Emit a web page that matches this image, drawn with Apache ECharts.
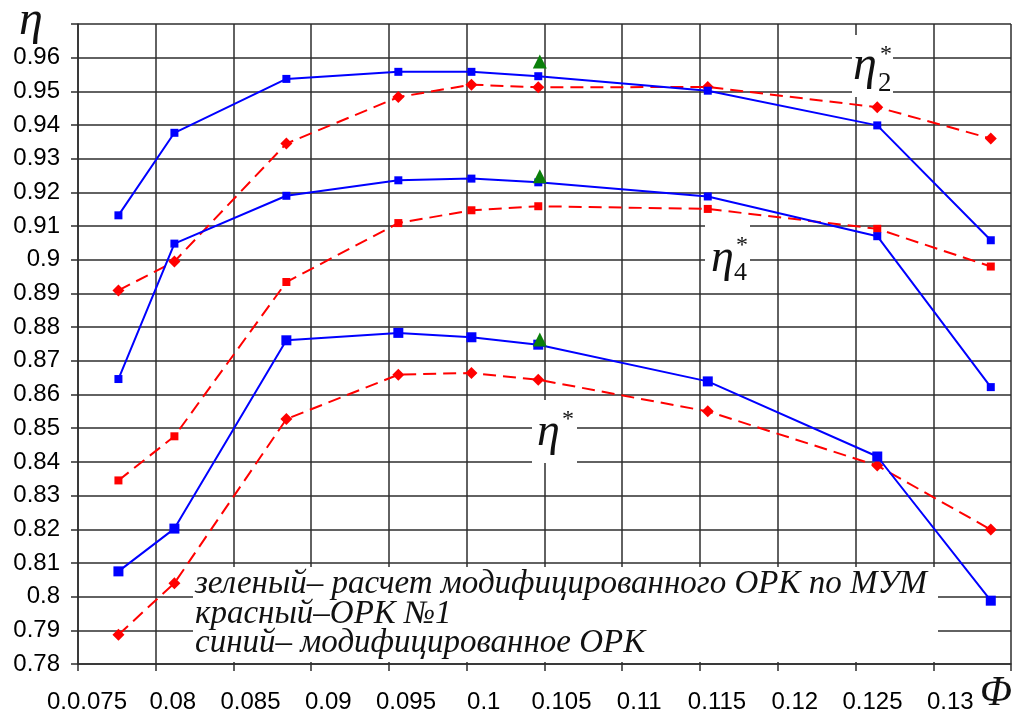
<!DOCTYPE html>
<html>
<head>
<meta charset="utf-8">
<title>КПД</title>
<script src="https://cdn.jsdelivr.net/npm/echarts@6/dist/echarts.min.js"></script>
<style>
	html, body { margin: 0; padding: 0; background: #fff; }
	#chart { width: 1019px; height: 715px; }
</style>
</head>
<body>
<div id="chart"></div>
<script>
	// расход Ф
	const phi = [0.0776, 0.0812, 0.0884, 0.0956, 0.1003, 0.1046, 0.1155, 0.1264, 0.1337];
	// eta2*
	const eta2Blue = [0.9132, 0.9377, 0.9537, 0.9558, 0.9558, 0.9545, 0.9502, 0.9399, 0.9058];
	const eta2Red = [0.8909, 0.8995, 0.9345, 0.9483, 0.952, 0.9512, 0.9513, 0.9453, 0.936];
	// eta4*
	const eta4Blue = [0.8646, 0.9048, 0.919, 0.9236, 0.9241, 0.923, 0.9188, 0.907, 0.8622];
	const eta4Red = [0.8345, 0.8476, 0.8934, 0.9109, 0.9147, 0.9159, 0.9151, 0.9092, 0.898];
	// eta*
	const etaBlue = [0.8075, 0.8202, 0.8761, 0.8783, 0.877, 0.8748, 0.8639, 0.8416, 0.7988];
	const etaRed = [0.7887, 0.804, 0.8527, 0.8659, 0.8664, 0.8644, 0.855, 0.8389, 0.8199];
	// зеленый - расчет по МУМ
	const greenPhi = [0.1047, 0.1047, 0.1047];
	const greenEta = [0.9589, 0.9248, 0.8763];

	const legendLines = [
		'зеленый– расчет модифицированного ОРК по МУМ',
		'красный–ОРК №1',
		'синий– модифицированное ОРК'
	];

	const pairs = (xs, ys) => xs.map((x, i) => [x, ys[i]]);
	const gridColor = '#2e2e2e';
	const serif = "'Liberation Serif', 'DejaVu Serif', serif";

	function blueLine(data, size) {
		return {
			type: 'line', data: data, symbol: 'rect', symbolSize: size, z: 4,
			lineStyle: { color: '#0000ff', width: 2 },
			itemStyle: { color: '#0000ff' }
		};
	}
	function redLine(data, symbol, size) {
		return {
			type: 'line', data: data, symbol: symbol, symbolSize: size, z: 3,
			lineStyle: { color: '#ff0000', width: 2, type: [13, 7] },
			itemStyle: { color: '#ff0000' }
		};
	}
	function whiteBox(x, y, w, h) {
		return { type: 'rect', z: 1, shape: { x: x, y: y, width: w, height: h }, style: { fill: '#fff' } };
	}
	function label(text, x, y, size, opts) {
		return {
			type: 'text', z: 10, x: x, y: y,
			style: Object.assign({
				text: text, fill: '#111', font: 'italic ' + size + 'px ' + serif,
				align: 'left', verticalAlign: 'middle'
			}, opts || {})
		};
	}

	let chart = echarts.init(document.getElementById('chart'));
	let option = {
		animation: false,
		grid: { left: 78, right: 8, top: 24, bottom: 51 },
		xAxis: {
			type: 'value', min: 0.075, max: 0.135, interval: 0.005,
			axisLine: { show: true, lineStyle: { color: gridColor, width: 1.5 } },
			axisTick: { show: true, length: 7, lineStyle: { color: gridColor, width: 1.5 } },
			splitLine: { show: true, lineStyle: { color: gridColor, width: 1.5 } },
			axisLabel: {
				margin: 26,
				formatter: function (v) {
					if (Math.abs(v - 0.135) < 1e-6) return '';
					if (Math.abs(v - 0.075) < 1e-6) return '{f|0.0.075}';
					return '{n|' + Number(v.toFixed(3)) + '}';
				},
				rich: {
					n: { fontSize: 24, color: '#000', fontFamily: 'Liberation Sans', padding: [0, 0, 0, 34] },
					f: { fontSize: 24, color: '#000', fontFamily: 'Liberation Sans', padding: [0, 0, 0, 18] }
				}
			}
		},
		yAxis: {
			type: 'value', min: 0.78, max: 0.97, interval: 0.01,
			axisLine: { show: true, lineStyle: { color: gridColor, width: 1.5 } },
			axisTick: { show: true, length: 7, lineStyle: { color: gridColor, width: 1.5 } },
			splitLine: { show: true, lineStyle: { color: gridColor, width: 1.5 } },
			axisLabel: {
				margin: 18, fontSize: 24, color: '#000', fontFamily: 'Liberation Sans',
				formatter: function (v) {
					if (Math.abs(v - 0.97) < 1e-6) return '';
					return String(Number(v.toFixed(2)));
				}
			}
		},
		series: [
			redLine(pairs(phi, eta2Red), 'diamond', 12),
			redLine(pairs(phi, eta4Red), 'rect', 8),
			redLine(pairs(phi, etaRed), 'diamond', 12),
			blueLine(pairs(phi, eta2Blue), 8),
			blueLine(pairs(phi, eta4Blue), 8),
			blueLine(pairs(phi, etaBlue), 10),
			{
				type: 'scatter', data: pairs(greenPhi, greenEta), symbol: 'triangle', symbolSize: 14, z: 5,
				itemStyle: { color: '#0a800a', opacity: 1 }
			}
		],
		graphic: [
			// подложки под подписи
			whiteBox(193, 567, 745, 95),
			whiteBox(852, 35, 41, 62),
			whiteBox(705, 222, 45, 66),
			whiteBox(532, 400, 45, 63),
			// подписи кривых
			label('η', 853, 66, 48),
			label('2', 878, 84, 27, { font: '27px ' + serif }),
			label('*', 886, 55, 24, { font: '24px ' + serif, align: 'center' }),
			label('η', 711, 259, 46),
			label('4', 734, 273, 26, { font: '26px ' + serif }),
			label('*', 742, 246, 24, { font: '24px ' + serif, align: 'center' }),
			label('η', 537, 433, 46),
			label('*', 568, 420, 24, { font: '24px ' + serif, align: 'center' }),
			// оси
			label('η', 19, 21, 48),
			label('Φ', 996, 694, 42, { align: 'center' }),
			// пояснения
			label(legendLines[0], 195, 584, 33),
			label(legendLines[1], 195, 614, 33),
			label(legendLines[2], 195, 643, 33)
		]
	};
	chart.setOption(option);
</script>
</body>
</html>
